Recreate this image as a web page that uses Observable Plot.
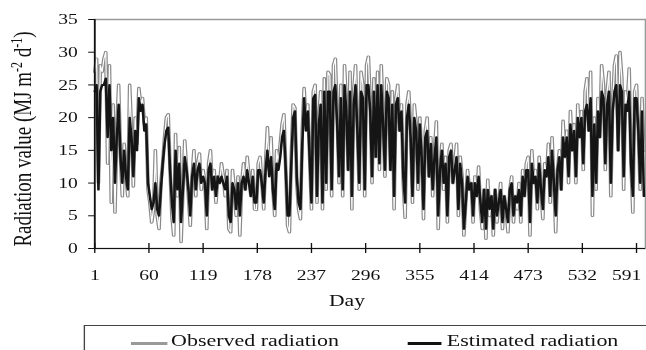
<!DOCTYPE html>
<html><head><meta charset="utf-8">
<script src="https://cdn.jsdelivr.net/npm/d3@7"></script>
<script src="https://cdn.jsdelivr.net/npm/@observablehq/plot@0.6"></script>
<style>
html,body{margin:0;padding:0;background:#fff;overflow:hidden;width:646px;height:350px;}
#wrap{position:relative;width:479px;height:350px;transform:scaleX(1.35);transform-origin:0 0;font-family:"Liberation Serif",serif;color:#111;}
#legend{position:absolute;left:61.5px;top:325px;width:520px;height:60px;border:1px solid #444;box-sizing:border-box;}
.lg{position:absolute;height:3px;top:342px;}
.lt{position:absolute;top:333px;font-size:16.3px;line-height:16px;white-space:nowrap;}
</style></head>
<body>
<div id="wrap"><div id="chart"></div><div id="legend"></div>
<div class="lg" style="left:97px;width:26.7px;background:#999"></div>
<div class="lt" style="left:126.7px">Observed radiation</div>
<div class="lg" style="left:302px;width:25.4px;background:#111"></div>
<div class="lt" style="left:331px">Estimated radiation</div>
</div>
<script>
const startDay = 1, dayStep = 2;
const xTicks = [1, 60, 119, 178, 237, 296, 355, 414, 473, 532, 591];
const yTicks = [0, 5, 10, 15, 20, 25, 30, 35];
const observed = [
27, 29, 10, 28, 27, 29, 30, 13, 28, 7,
22, 5.5, 18, 25, 14, 8, 16, 11, 8, 25,
18, 9.5, 20, 16, 24.5, 22, 23, 19, 20, 9,
7, 4, 6, 15, 5, 3, 10, 13, 17, 20,
20.5, 12, 5, 2, 17.5, 8, 15.5, 1, 9, 16.5,
12, 8, 3.5, 11, 15, 8, 13, 14.5, 9, 12,
10, 3, 13, 15, 9, 12, 7, 11, 10, 13,
11, 8, 12, 3, 2.5, 12, 9, 5, 11, 2,
10, 13, 9, 14, 11, 8, 12, 6, 5.9, 13,
14, 10, 6, 13, 18.5, 12, 17, 9, 5, 15,
13, 16, 19, 20.5, 12, 3.5, 2.5, 14, 22, 21.5,
10, 6, 4.5, 18, 24.5, 19, 22, 14, 6, 24,
25, 7, 20, 24, 6, 26, 9, 27, 26.5, 8,
28, 29, 20, 10, 25, 8, 28, 22, 12, 27,
6, 24, 28, 18, 9, 27, 25, 8, 28, 29.3,
22, 10, 26, 14, 27, 12, 28, 20, 11, 26,
25, 12, 24, 6, 23, 25, 18, 22, 10, 4.7,
22, 24, 18, 7, 22, 19, 9, 20, 14, 4.5,
18, 20, 11, 17, 8, 15, 19.4, 3, 12, 16,
9, 14, 4, 15, 16, 10, 13, 16, 5, 14,
11, 2, 7, 12, 9, 10, 4, 11, 8, 12.5,
6, 3, 9, 1.5, 10.5, 5, 8, 2, 9, 4,
7, 10, 3, 8, 6, 2.5, 9, 11, 4, 8,
6, 10, 4, 12, 8, 13, 14, 2, 15, 10,
12, 6, 14, 9, 4.5, 13, 11, 16, 7, 17,
10, 2.5, 12, 15, 9, 19.5, 14, 18, 10, 21,
15, 19, 10, 22, 17, 21, 12, 24, 26, 18,
27, 5, 20, 9, 23, 17, 28, 25, 12, 24,
27, 8, 22, 28, 29.5, 15, 30, 26, 9, 24,
22, 27.5, 13, 5.5, 24, 25, 18, 9, 23, 15
];
const estimated = [
24, 25, 9, 24, 25, 25, 26, 17, 25, 15,
20, 10, 17, 22, 14, 10, 15, 11, 9, 20,
17, 11, 18, 15, 23, 21, 22, 18, 19, 10,
8, 6, 7, 10, 6, 5, 9, 13, 16, 18,
18.5, 12, 7, 4, 15, 9, 13, 4, 9, 14,
12, 9, 5, 11, 13, 9, 12, 13, 10, 11,
10, 5, 12, 13, 9, 11, 8, 11, 10, 11,
10, 9, 11, 5, 4, 10, 9, 6, 10, 5,
10, 11, 9, 12, 10, 8, 11, 7, 7, 12,
12, 10, 7, 12, 15, 11, 14, 9, 6, 13,
12, 14, 17, 18, 12, 5, 5, 13, 20, 21,
11, 7, 6, 16, 23, 18, 21, 14, 7, 23,
23.5, 8, 19, 22, 7, 24, 10, 24, 24, 9,
24, 25, 19, 11, 23, 9, 25, 21, 12, 24,
8, 22, 25, 18, 10, 24, 23, 9, 25, 25,
21, 11, 24, 14, 25, 13, 25, 19, 12, 24,
23, 12, 22, 8, 22, 23, 18, 21, 11, 7,
20, 22, 17, 8, 20, 18, 10, 19, 14, 6,
17, 18, 11, 16, 9, 14, 17, 5, 12, 15,
10, 13, 5, 14, 15, 10, 12, 14, 6, 13,
10, 3, 7, 11, 9, 10, 5, 10, 8, 11,
7, 4, 9, 3, 9, 6, 8, 3, 9, 5,
7, 9, 4, 8, 6, 4, 9, 10, 5, 8,
7, 9, 5, 11, 8, 12, 12, 4, 13, 10,
11, 7, 13, 9, 6, 12, 11, 14, 8, 15,
10, 5, 12, 14, 9, 17, 14, 17, 11, 19,
15, 18, 11, 20, 17, 20, 13, 21, 22, 18,
23, 8, 19, 10, 21, 17, 24, 23, 13, 22,
24, 10, 21, 24, 25, 15, 25, 24, 11, 22,
21, 24, 13, 8, 23, 23, 18, 10, 21, 8
];
const obsData = observed.map((v, i) => ({day: startDay + dayStep * i, value: v}));
const estData = estimated.map((v, i) => ({day: startDay + dayStep * i, value: v}));

const chart = Plot.plot({
  width: 479, height: 318,
  marginLeft: 69.7, marginRight: 1.2, marginTop: 19, marginBottom: 70,
  style: {fontFamily: "Liberation Serif, serif", fontSize: "14.5px", color: "#111", background: "transparent"},
  x: {domain: [1, 601], label: null},
  y: {domain: [0, 35], label: null},
  marks: [
    Plot.frame({stroke: "#9a9a9a", strokeWidth: 1.5}),
    Plot.line(obsData, {x: "day", y: "value", stroke: "#8a8a8a", strokeWidth: 2.7}),
    Plot.line(obsData, {x: "day", y: "value", stroke: "#ffffff", strokeWidth: 0.9}),
    Plot.line(estData, {x: "day", y: "value", stroke: "#151515", strokeWidth: 1.9}),
    Plot.ruleY([0], {stroke: "#111", strokeWidth: 1.2}),
    Plot.ruleX([1], {stroke: "#111", strokeWidth: 1.2}),
    Plot.axisY(yTicks, {tickSize: 4.4, tickPadding: 8.2, label: null, stroke: "#111"}),
    Plot.axisX(xTicks, {tickSize: 10, dy: -5, tickPadding: 16, label: null, stroke: "#111"})
  ]
});
document.getElementById("chart").appendChild(chart);

const svg = d3.select(chart);
// keep the last tick label inside the picture, as in the reference
svg.selectAll("text").filter(function () { return this.textContent === "591"; })
  .attr("text-anchor", "end").attr("dx", 3.6);
const yt = svg.append("text")
  .attr("transform", "translate(23,139) rotate(-90)")
  .attr("text-anchor", "middle")
  .attr("fill", "#111")
  .style("font-size", "19px");
yt.append("tspan").text("Radiation value (MJ m");
yt.append("tspan").attr("baseline-shift", "super").style("font-size", "12px").text("-2");
yt.append("tspan").text(" d");
yt.append("tspan").attr("baseline-shift", "super").style("font-size", "12px").text("-1");
yt.append("tspan").text(")");
svg.append("text")
  .attr("x", 257).attr("y", 306)
  .attr("text-anchor", "middle")
  .attr("fill", "#111")
  .style("font-size", "16px")
  .text("Day");
</script>
</body></html>
